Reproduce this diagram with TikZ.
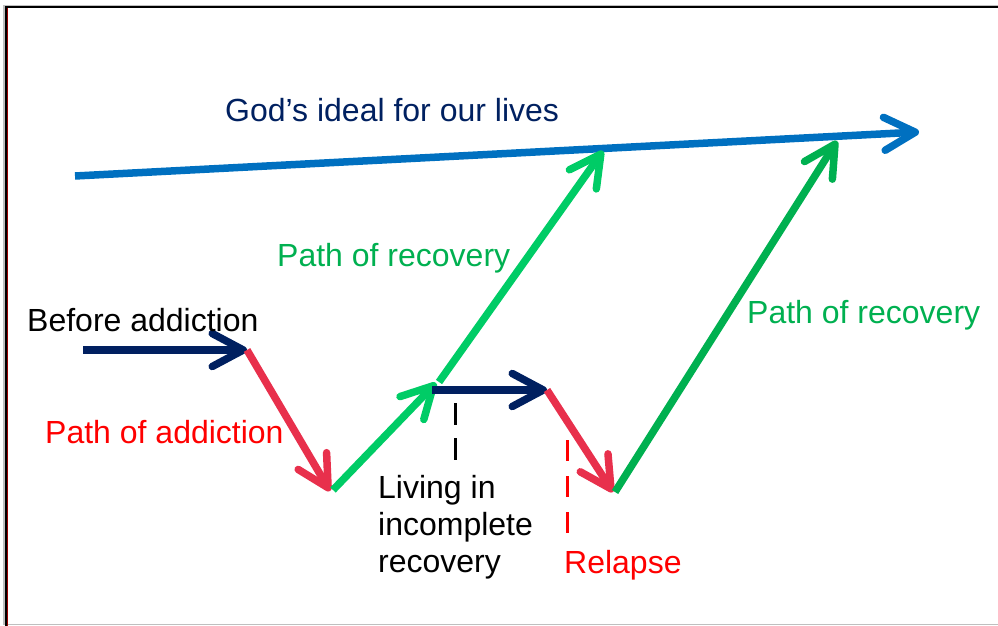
\documentclass[tikz,border=0pt]{standalone}
\usepackage{fontspec}
\setmainfont{Liberation Sans}
\usetikzlibrary{arrows.meta}
\definecolor{navy}{RGB}{0,32,96}
\definecolor{idealblue}{RGB}{0,112,192}
\definecolor{lightgreen}{RGB}{0,204,102}
\definecolor{darkgreen}{RGB}{0,176,80}
\definecolor{addictred}{RGB}{232,48,76}
\definecolor{textred}{RGB}{255,0,0}

\begin{document}
\begin{tikzpicture}[x=1pt,y=-1pt,
	freccia/.style={line width=7.5pt, -{Straight Barb[length=31pt,width=33pt,round]}},
	etichetta/.style={anchor=base west, inner sep=0pt, font=\fontsize{32}{36}\selectfont}]
	\useasboundingbox (0,0) rectangle (998,626);
	%Cornice
	\draw [gray!50, line width=1.5pt] (4,5.5) rectangle (1002,624.5);
	\draw [black, line width=2pt] (998,7) -- (5.8,7) -- (5.8,626);
	\draw [red!60!black, line width=0.8pt] (7.3,8) -- (7.3,626);
	%Punti
	\coordinate (ideal0) at (75,176);
	\coordinate (ideal1) at (919,132);
	\coordinate (prima0) at (83,350);
	\coordinate (prima1) at (247,350);
	\coordinate (fondo1) at (330,491);
	\coordinate (risalita0) at (333,490);
	\coordinate (risalita1) at (436,383);
	\coordinate (cima1) at (603,151);
	\coordinate (stallo0) at (432,390);
	\coordinate (stallo1) at (547,390);
	\coordinate (fondo2) at (613,492);
	\coordinate (cima2) at (837,141);
	%Ideale
	\draw [freccia, idealblue] (ideal0) -- (ideal1);
	\node [etichetta, navy] (ideale) at (225,121) {God’s ideal for our lives};
	%Prima della dipendenza
	\draw [freccia, navy] (prima0) -- (prima1);
	\node [etichetta] (prima) at (27,331) {Before addiction};
	%Dipendenza
	\draw [freccia, addictred] (prima1) -- (fondo1);
	\node [etichetta, textred] (dipendenza) at (45,443) {Path of addiction};
	%Prima risalita
	\draw [freccia, lightgreen] (risalita0) -- (risalita1);
	\draw [freccia, lightgreen] (risalita1) ++(3,-1) -- (cima1);
	\node [etichetta, darkgreen] (recupero1) at (277,266) {Path of recovery};
	%Recupero incompleto
	\draw [freccia, navy] (stallo0) -- (stallo1);
	\coordinate (segno0) at (455,403);
	\coordinate (segno1) at (455,460);
	\draw [black, line width=3pt, dash pattern=on 22pt off 13pt] (segno0) -- (segno1);
	\node [anchor=north west, inner sep=0pt, align=left, font=\fontsize{32}{37}\selectfont] (incompleto) at (378,475) {Living in\\incomplete\\recovery};
	%Ricaduta
	\draw [freccia, addictred] (stallo1) -- (fondo2);
	\coordinate (ricaduta0) at (567,440);
	\coordinate (ricaduta1) at (567,537);
	\draw [textred, line width=3pt, dash pattern=on 21pt off 15pt] (ricaduta0) -- (ricaduta1);
	\node [etichetta, textred] (ricaduta) at (564,573) {Relapse};
	%Seconda risalita
	\draw [freccia, darkgreen] (fondo2) ++(2,0) -- (cima2);
	\node [etichetta, darkgreen] (recupero2) at (747,323) {Path of recovery};
\end{tikzpicture}
\end{document}
